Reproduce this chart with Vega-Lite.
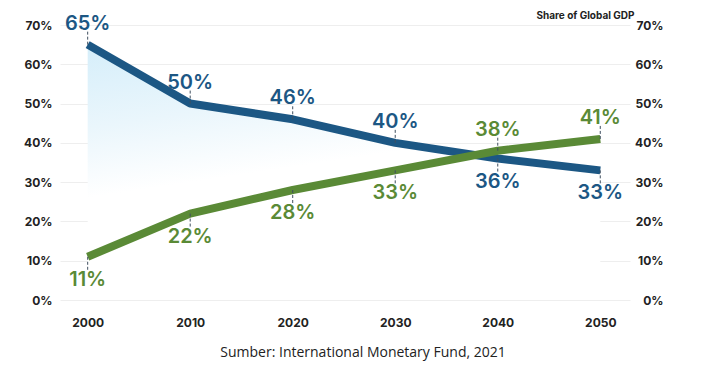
{
  "$schema": "https://vega.github.io/schema/vega-lite/v6.json",
  "width": 570,
  "height": 275,
  "autosize": {"type": "none"},
  "padding": {"left": 60, "top": 25, "right": 84, "bottom": 76},
  "background": "white",
  "config": {
    "view": {"stroke": null},
    "font": "Inter",
    "axis": {"domain": false, "ticks": false, "labelFont": "Inter", "labelFontWeight": "bold", "labelFontSize": 12, "labelColor": "#222222"}
  },
  "title": {
    "text": "Sumber: International Monetary Fund, 2021",
    "orient": "bottom",
    "anchor": "middle",
    "offset": 18,
    "dx": 18,
    "font": "Open Sans",
    "fontSize": 14,
    "fontWeight": "normal",
    "color": "#222222"
  },
  "data": {
    "values": [
      {"year": 2000, "group": "Advanced", "value": 65},
      {"year": 2010, "group": "Advanced", "value": 50},
      {"year": 2020, "group": "Advanced", "value": 46},
      {"year": 2030, "group": "Advanced", "value": 40},
      {"year": 2040, "group": "Advanced", "value": 36},
      {"year": 2050, "group": "Advanced", "value": 33},
      {"year": 2000, "group": "Emerging", "value": 11},
      {"year": 2010, "group": "Emerging", "value": 22},
      {"year": 2020, "group": "Emerging", "value": 28},
      {"year": 2030, "group": "Emerging", "value": 33},
      {"year": 2040, "group": "Emerging", "value": 38},
      {"year": 2050, "group": "Emerging", "value": 41}
    ]
  },
  "resolve": {"axis": {"y": "independent"}},
  "layer": [
    {
      "transform": [{"filter": "datum.group == 'Advanced'"}],
      "mark": {
        "type": "area",
        "color": {
          "gradient": "linear",
          "x1": 0, "y1": 0, "x2": 0.3, "y2": 1,
          "stops": [
            {"offset": 0, "color": "#d5eefa"},
            {"offset": 0.3, "color": "#eaf6fc"},
            {"offset": 0.55, "color": "#ffffff"}
          ]
        }
      },
      "encoding": {
        "x": {
          "field": "year", "type": "quantitative",
          "scale": {"domain": [1997.3, 2052.9], "nice": false, "zero": false},
          "axis": {"values": [2000, 2010, 2020, 2030, 2040, 2050], "format": "d", "grid": false, "labelPadding": 17, "title": null}
        },
        "y": {
          "field": "value", "type": "quantitative",
          "scale": {"domain": [0, 70], "nice": false},
          "axis": {"orient": "left", "values": [0, 10, 20, 30, 40, 50, 60, 70], "labelExpr": "datum.value + '%'", "grid": true, "gridColor": "#eeeeee", "labelPadding": 8, "title": null}
        }
      }
    },
    {
      "mark": {"type": "line", "strokeWidth": 8, "strokeCap": "butt", "strokeJoin": "round"},
      "encoding": {
        "x": {"field": "year", "type": "quantitative", "title": null},
        "y": {
          "field": "value", "type": "quantitative",
          "axis": {
            "orient": "right", "values": [0, 10, 20, 30, 40, 50, 60, 70], "labelExpr": "datum.value + '%'", "grid": false,
            "labelAlign": "right", "labelPadding": 33,
            "title": "Share of Global GDP", "titleAngle": 0, "titleAlign": "right", "titleBaseline": "middle",
            "titleX": 4, "titleY": -10, "titleFont": "Inter", "titleFontSize": 10, "titleFontWeight": "bold", "titleColor": "#222222"
          }
        },
        "color": {"field": "group", "type": "nominal", "scale": {"domain": ["Advanced", "Emerging"], "range": ["#1c5784", "#5a8a36"]}, "legend": null}
      }
    },
    {
      "transform": [{"filter": "(datum.group == 'Advanced' && datum.year <= 2030) || (datum.group == 'Emerging' && datum.year >= 2040)"}],
      "mark": {"type": "rule", "strokeDash": [3, 2], "strokeWidth": 1, "color": "#3f4f5f", "y2Offset": -13},
      "encoding": {
        "x": {"field": "year", "type": "quantitative", "title": null},
        "y": {"field": "value", "type": "quantitative", "axis": null},
        "y2": {"field": "value"}
      }
    },
    {
      "transform": [{"filter": "(datum.group == 'Advanced' && datum.year >= 2040) || (datum.group == 'Emerging' && datum.year <= 2030)"}],
      "mark": {"type": "rule", "strokeDash": [3, 2], "strokeWidth": 1, "color": "#3f4f5f", "y2Offset": 13},
      "encoding": {
        "x": {"field": "year", "type": "quantitative", "title": null},
        "y": {"field": "value", "type": "quantitative", "axis": null},
        "y2": {"field": "value"}
      }
    },
    {
      "transform": [
        {"filter": "(datum.group == 'Advanced' && datum.year <= 2030) || (datum.group == 'Emerging' && datum.year >= 2040)"},
        {"calculate": "datum.value + '%'", "as": "label"}
      ],
      "mark": {"type": "text", "baseline": "bottom", "dy": -11, "fontSize": 20, "fontWeight": 600, "font": "Inter"},
      "encoding": {
        "x": {"field": "year", "type": "quantitative", "title": null},
        "y": {"field": "value", "type": "quantitative", "axis": null},
        "text": {"field": "label", "type": "nominal"},
        "color": {"field": "group", "type": "nominal", "scale": {"domain": ["Advanced", "Emerging"], "range": ["#2a5e85", "#6b9247"]}, "legend": null}
      }
    },
    {
      "transform": [
        {"filter": "(datum.group == 'Advanced' && datum.year >= 2040) || (datum.group == 'Emerging' && datum.year <= 2030)"},
        {"calculate": "datum.value + '%'", "as": "label"}
      ],
      "mark": {"type": "text", "baseline": "top", "dy": 13, "fontSize": 20, "fontWeight": 600, "font": "Inter"},
      "encoding": {
        "x": {"field": "year", "type": "quantitative", "title": null},
        "y": {"field": "value", "type": "quantitative", "axis": null},
        "text": {"field": "label", "type": "nominal"},
        "color": {"field": "group", "type": "nominal", "scale": {"domain": ["Advanced", "Emerging"], "range": ["#2a5e85", "#6b9247"]}, "legend": null}
      }
    }
  ]
}
